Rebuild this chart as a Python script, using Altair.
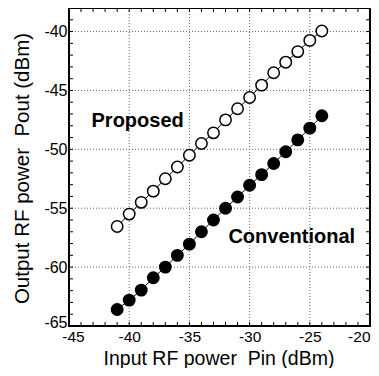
import altair as alt
import pandas as pd

# ---- data ----
pin = [-41, -40, -39, -38, -37, -36, -35, -34, -33, -32, -31, -30, -29, -28, -27, -26, -25, -24]
proposed = [-56.55, -55.5, -54.5, -53.55, -52.5, -51.5, -50.5, -49.5, -48.6, -47.5,
            -46.55, -45.6, -44.55, -43.5, -42.6, -41.7, -40.75, -39.95]
conventional = [-63.6, -62.8, -61.95, -60.9, -60.0, -59.0, -58.05, -57.0, -56.0, -55.0,
                -54.05, -53.05, -52.15, -51.2, -50.2, -49.2, -48.2, -47.15]
x_labels = [-45, -40, -35, -30, -25, -20]
y_labels = [-65, -60, -55, -50, -45, -40]
x_grid = [-40, -35, -30, -25]
y_grid = [-60, -55, -50, -45, -40]
x_minor = list(range(-45, -19))
y_minor = list(range(-65, -37))
annot_text = ["Proposed", "Conventional"]
annot_x = [-39.3, -26.5]
annot_y = [-47.6, -57.45]

W, H = 301, 318
FONT = "Liberation Sans"

df = pd.DataFrame({
    "pin": pin * 2,
    "pout": proposed + conventional,
    "series": ["Proposed"] * len(pin) + ["Conventional"] * len(pin),
})

xs = alt.Scale(domain=[-45, -20], nice=False, zero=False)
ys = alt.Scale(domain=[-65, -38], nice=False, zero=False)

XT = "Input RF power\u00a0\u00a0Pin (dBm)"
YT = "Output RF power\u00a0\u00a0Pout (dBm)"
LBL = "'-' + format(abs(datum.value), 'd')"
xaxis = alt.Axis(values=x_labels, grid=False, ticks=False, domain=False, labelFlush=False,
                 labelExpr=LBL,
                 labelAlign={"condition": {"test": "datum.value >= -20", "value": "right"},
                             "value": "center"},
                 labelOffset={"condition": {"test": "datum.value <= -45", "value": 4},
                              "value": 0},
                 labelFontSize=15.5, labelFont=FONT, labelColor="black",
                 labelPadding=3, titleFontSize=19.5, titleFont=FONT,
                 titleFontWeight="normal", titleColor="black",
                 titleBaseline="alphabetic", titleY=38, titleX=W / 2 - 1)
yaxis = alt.Axis(values=y_labels, grid=False, ticks=False, domain=False, labelFlush=False,
                 labelExpr=LBL,
                 labelOffset={"condition": {"test": "datum.value <= -65", "value": -4},
                              "value": 0},
                 labelFontSize=16, labelFont=FONT, labelColor="black",
                 labelPadding=2, titleFontSize=20.5, titleFont=FONT,
                 titleFontWeight="normal", titleColor="black",
                 titleBaseline="middle", titleX=-47, titleY=H / 2 + 1)


def X(f):
    return alt.X(f, scale=xs, axis=xaxis, title=XT)


def Y(f):
    return alt.Y(f, scale=ys, axis=yaxis, title=YT)


xgrid_df = pd.DataFrame({"v": x_grid})
ygrid_df = pd.DataFrame({"v": y_grid})
xm_df = pd.DataFrame({"v": x_minor})
ym_df = pd.DataFrame({"v": y_minor})

grid_style = dict(color="#666666", strokeWidth=1, strokeDash=[1, 2])

gx = alt.Chart(xgrid_df).mark_rule(**grid_style).encode(
    x=X("v:Q"), y=alt.value(0), y2=alt.value(H))
gy = alt.Chart(ygrid_df).mark_rule(**grid_style).encode(
    y=Y("v:Q"), x=alt.value(0), x2=alt.value(W))

tick_style = dict(color="black", strokeWidth=1)
t_top = alt.Chart(xm_df).mark_rule(**tick_style).encode(
    x=X("v:Q"), y=alt.value(0), y2=alt.value(4))
t_bot = alt.Chart(xm_df).mark_rule(**tick_style).encode(
    x=X("v:Q"), y=alt.value(H), y2=alt.value(H - 4))
t_left = alt.Chart(ym_df).mark_rule(**tick_style).encode(
    y=Y("v:Q"), x=alt.value(0), x2=alt.value(4))
t_right = alt.Chart(ym_df).mark_rule(**tick_style).encode(
    y=Y("v:Q"), x=alt.value(W), x2=alt.value(W - 4))

annot_df = pd.DataFrame({"t": annot_text, "x": annot_x, "y": annot_y})
annot = alt.Chart(annot_df).mark_text(font=FONT, fontSize=20, fontWeight="bold",
                                      color="black", baseline="middle", align="center").encode(
    x=X("x:Q"), y=Y("y:Q"), text="t:N")

base = alt.Chart(df).encode(x=X("pin:Q"), y=Y("pout:Q"))

lines = base.mark_line(color="black", strokeWidth=1).encode(detail="series:N")
points = base.mark_point(shape="circle", size=130, strokeWidth=1.5, opacity=1,
                         stroke="black", filled=True).encode(
    fill=alt.Fill("series:N",
                  scale=alt.Scale(domain=["Proposed", "Conventional"], range=["white", "black"]),
                  legend=None))

chart = alt.layer(gx, gy, t_top, t_bot, t_left, t_right, annot, lines, points).properties(
    width=W, height=H,
    background="white",
    autosize=alt.AutoSizeParams(type="none"),
    padding={"left": 61, "top": 0, "right": 1, "bottom": 42},
).configure_view(stroke="black", strokeWidth=2)

chart.save("out.html", embed_options={"renderer": "svg", "actions": False})
